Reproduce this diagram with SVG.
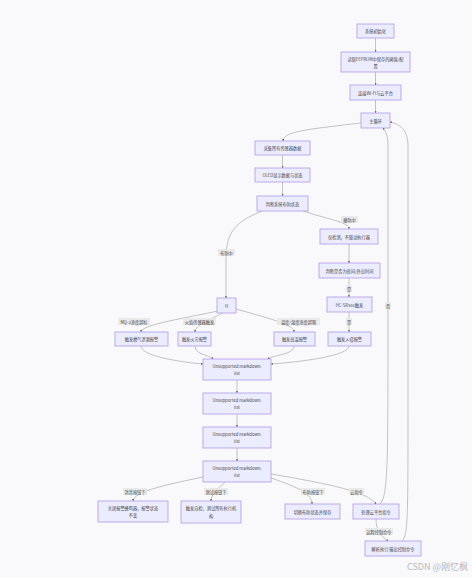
<svg xmlns="http://www.w3.org/2000/svg" width="472" height="578" viewBox="0 0 472 578">
<defs>
<marker id="arr" viewBox="0 0 10 10" refX="9" refY="5" markerWidth="4" markerHeight="4" orient="auto"><path d="M0,0 L10,5 L0,10 z" fill="#444"/></marker>
<style>
.n rect{fill:#ECECFF;stroke:#b7a3ec;stroke-width:0.9}
.n text,.lb text{font-family:"Noto Sans CJK SC","Liberation Sans",sans-serif;font-size:4.2px;fill:#444;text-anchor:middle;dominant-baseline:central}
.e path{fill:none;stroke:#8a8a8a;stroke-width:0.5;marker-end:url(#arr)}
.lb rect{fill:#e8e8e8;opacity:0.85}
</style>
</defs>
<rect width="472" height="578" fill="#f9f9fc"/>
<g class="e">
<path d="M375.5,38 L375.5,52"/>
<path d="M375.5,72 L375.5,85"/>
<path d="M375.5,100 L375.5,113"/>
<path d="M361,123 C300,130 284,132 283,141"/>
<path d="M282.5,155 L282.5,168"/>
<path d="M282.5,182 L282.5,196"/>
<path d="M262,211 C235,222 226,232 226,260 L226,298"/>
<path d="M303,211 C330,220 349,222 349,229"/>
<path d="M349,244 L349,263"/>
<path d="M349,278 L349,297"/>
<path d="M349,312 L349,332"/>
<path d="M218,311 C175,320 142,325 141,332"/>
<path d="M223,313 C205,322 195,326 195,332"/>
<path d="M236,309 C275,320 294,325 294,332"/>
<path d="M141,346 C141,356 180,362 203,364"/>
<path d="M195,346 C195,355 210,355 213,359"/>
<path d="M294,346 C294,355 272,355 268,359"/>
<path d="M349,346 C349,356 300,362 271,364"/>
<path d="M237,380 L237,393"/>
<path d="M237,414 L237,427"/>
<path d="M237,448 L237,461"/>
<path d="M203,477 C160,486 134,492 133,501"/>
<path d="M225,482 C216,490 211,495 211,501"/>
<path d="M271,478 C300,488 312,494 312,504"/>
<path d="M271,474 C330,484 368,492 376,504"/>
<path d="M376,519 C376,530 380,535 388,541"/>
<path d="M380,504 C388,495 388,470 388,300 L388,145 C388,136 386,132 383,128"/>
<path d="M402,541 C408,535 408,520 408,400 L408,145 C408,130 400,124 390,122"/>
</g>
<g class="lb">
<rect x="341" y="216" width="17" height="7"/><text x="349.5" y="219.5">撤防中</text>
<rect x="218" y="249" width="17" height="7"/><text x="226.5" y="252.5">布防中</text>
<rect x="346" y="285" width="6" height="7"/><text x="349" y="288.5">是</text>
<rect x="346" y="318" width="6" height="7"/><text x="349" y="321.5">是</text>
<rect x="118" y="318" width="32" height="7"/><text x="134" y="321.5">MQ-2浓度超标</text>
<rect x="183" y="318" width="33" height="7"/><text x="199.5" y="321.5">火焰传感器触发</text>
<rect x="277" y="318" width="43" height="7"/><text x="298.5" y="321.5">温度/湿度浓度超限</text>
<rect x="385" y="302" width="6" height="7"/><text x="388" y="305.5">否</text>
<rect x="123" y="488" width="24" height="7"/><text x="135" y="491.5">消音按钮下</text>
<rect x="204" y="488" width="24" height="7"/><text x="216" y="491.5">测试按钮下</text>
<rect x="301" y="488" width="24" height="7"/><text x="313" y="491.5">布防按钮下</text>
<rect x="349" y="488" width="15" height="7"/><text x="356.5" y="491.5">云指令</text>
<rect x="365" y="528" width="28" height="7"/><text x="379" y="531.5">远程控制命令</text>
</g>
<g id="n1" class="n"><rect x="357" y="24" width="37" height="14"/><text x="375.5" y="31">系统初始化</text></g>
<g id="n2" class="n"><rect x="341" y="52" width="69" height="20"/><text x="375.5" y="59">读取EEPROM中保存的阈值/配</text><text x="375.5" y="65.5">置</text></g>
<g id="n3" class="n"><rect x="350" y="85" width="51" height="15"/><text x="375.5" y="92.5">连接Wi-Fi与云平台</text></g>
<g id="n4" class="n"><rect x="361" y="113" width="29" height="15"/><text x="375.5" y="120.5">主循环</text></g>
<g id="n5" class="n"><rect x="255" y="141" width="55" height="14"/><text x="282.5" y="148">采集所有传感器数据</text></g>
<g id="n6" class="n"><rect x="255" y="168" width="55" height="14"/><text x="282.5" y="175">OLED显示数据与状态</text></g>
<g id="n7" class="n"><rect x="257" y="196" width="51" height="15"/><text x="282.5" y="203.5">判断系统布防状态</text></g>
<g id="n8" class="n"><rect x="320" y="229" width="58" height="15"/><text x="349" y="236.5">仅检测，不联动执行器</text></g>
<g id="n9" class="n"><rect x="319" y="263" width="61" height="15"/><text x="349.5" y="270.5">判断是否为夜间/外出时间</text></g>
<g id="n10" class="n"><rect x="327" y="297" width="45" height="15"/><text x="349.5" y="304.5">HC-SR501触发</text></g>
<g id="n11" class="n"><rect x="328" y="332" width="43" height="14"/><text x="349.5" y="339">触发入侵报警</text></g>
<g id="nH" class="n"><rect x="217" y="298" width="19" height="15"/><text x="226.5" y="305.5">H</text></g>
<g id="n12" class="n"><rect x="115" y="332" width="53" height="14"/><text x="141.5" y="339">触发燃气泄漏报警</text></g>
<g id="n13" class="n"><rect x="178" y="332" width="33" height="14"/><text x="194.5" y="339">触发火灾报警</text></g>
<g id="n14" class="n"><rect x="274" y="332" width="41" height="14"/><text x="294.5" y="339">触发高温报警</text></g>
<g id="m1" class="n"><rect x="203" y="359" width="68" height="21"/><text x="237" y="366">Unsupported markdown:</text><text x="237" y="373">list</text></g>
<g id="m2" class="n"><rect x="203" y="393" width="68" height="21"/><text x="237" y="400">Unsupported markdown:</text><text x="237" y="407">list</text></g>
<g id="m3" class="n"><rect x="203" y="427" width="68" height="21"/><text x="237" y="434">Unsupported markdown:</text><text x="237" y="441">list</text></g>
<g id="m4" class="n"><rect x="203" y="461" width="68" height="21"/><text x="237" y="468">Unsupported markdown:</text><text x="237" y="475">list</text></g>
<g id="b1" class="n"><rect x="98" y="501" width="70" height="21"/><text x="133" y="508">关闭报警蜂鸣器，报警状态</text><text x="133" y="515">不变</text></g>
<g id="b2" class="n"><rect x="181" y="501" width="60" height="22"/><text x="211" y="508">触发自检，测试所有执行机</text><text x="211" y="515.5">构</text></g>
<g id="b3" class="n"><rect x="285" y="504" width="55" height="15"/><text x="312.5" y="511.5">切换布防状态并保存</text></g>
<g id="b4" class="n"><rect x="353" y="504" width="46" height="15"/><text x="376" y="511.5">处理云平台指令</text></g>
<g id="b5" class="n"><rect x="365" y="541" width="56" height="15"/><text x="393" y="548.5">解析执行 输出控制命令</text></g>
<text x="468" y="566" font-family="'Noto Sans CJK SC','Liberation Sans',sans-serif" font-size="9" fill="#b8b8c0" text-anchor="end" dominant-baseline="central">CSDN @刚忆枫</text>
</svg>
